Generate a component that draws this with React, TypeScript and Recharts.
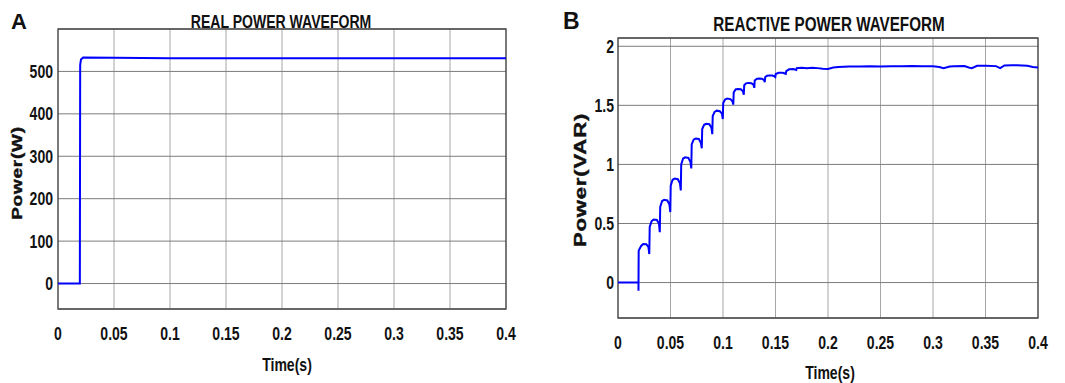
import React from "react";
import { LineChart, Line, XAxis, YAxis, CartesianGrid, ReferenceArea } from "recharts";

// ---- Panel A: real power ----
const realTime = [0, 0.0195, 0.0195, 0.0198, 0.0205, 0.0225, 0.05, 0.1, 0.2, 0.3, 0.4];
const realPower = [0, 0, 0, 515, 528, 533, 532, 531, 531, 531, 531];
const realTicksX = [0, 0.05, 0.1, 0.15, 0.2, 0.25, 0.3, 0.35, 0.4];
const realTicksY = [0, 100, 200, 300, 400, 500];

// ---- Panel B: reactive power ----
const reactiveTime = [
  0, 0.0195, 0.0195, 0.0197,
  0.022, 0.024, 0.027, 0.029, 0.0298,
  0.0302, 0.032, 0.034, 0.037, 0.039, 0.0398,
  0.0402, 0.042, 0.044, 0.047, 0.049, 0.0498,
  0.0502, 0.052, 0.054, 0.057, 0.059, 0.0598,
  0.0602, 0.062, 0.064, 0.067, 0.069, 0.0698,
  0.0702, 0.072, 0.074, 0.077, 0.079, 0.0798,
  0.0802, 0.082, 0.084, 0.087, 0.089, 0.0898,
  0.0902, 0.092, 0.094, 0.097, 0.099, 0.0998,
  0.1002, 0.102, 0.104, 0.107, 0.109, 0.1098,
  0.1102, 0.112, 0.114, 0.117, 0.119, 0.1198,
  0.1202, 0.122, 0.124, 0.127, 0.129, 0.1298,
  0.1302, 0.132, 0.134, 0.137, 0.139, 0.1398,
  0.1402, 0.142, 0.144, 0.147, 0.149, 0.1498,
  0.1502, 0.153, 0.157, 0.1598,
  0.1602, 0.163, 0.167, 0.1698,
  0.1702, 0.175, 0.18, 0.185, 0.19, 0.195, 0.2, 0.205, 0.21, 0.22, 0.23, 0.24,
  0.25, 0.26, 0.27, 0.28, 0.29, 0.3, 0.306, 0.31, 0.316, 0.32, 0.33, 0.334, 0.337,
  0.342, 0.35, 0.36, 0.364, 0.368, 0.375, 0.38, 0.39, 0.395, 0.4,
];
const reactivePower = [
  0, 0, -0.07, 0.27,
  0.31, 0.327, 0.325, 0.3, 0.241,
  0.47, 0.52, 0.534, 0.53, 0.5, 0.426,
  0.64, 0.69, 0.7, 0.695, 0.66, 0.597,
  0.82, 0.87, 0.88, 0.875, 0.84, 0.78,
  1.0, 1.05, 1.06, 1.055, 1.02, 0.966,
  1.17, 1.21, 1.219, 1.215, 1.18, 1.136,
  1.3, 1.335, 1.344, 1.34, 1.31, 1.256,
  1.41, 1.445, 1.455, 1.45, 1.43, 1.384,
  1.52, 1.55, 1.557, 1.553, 1.535, 1.506,
  1.61, 1.635, 1.639, 1.636, 1.62, 1.59,
  1.67, 1.686, 1.69, 1.688, 1.675, 1.648,
  1.71, 1.724, 1.727, 1.725, 1.715, 1.696,
  1.74, 1.75, 1.753, 1.752, 1.745, 1.739,
  1.765, 1.775, 1.776, 1.767,
  1.79, 1.805, 1.808, 1.8,
  1.815, 1.818, 1.815, 1.818, 1.815, 1.81, 1.808, 1.82, 1.825, 1.828, 1.828, 1.83,
  1.828, 1.83, 1.83, 1.832, 1.83, 1.83, 1.825, 1.815, 1.828, 1.83, 1.832, 1.82, 1.815,
  1.835, 1.836, 1.832, 1.815, 1.838, 1.84, 1.84, 1.835, 1.825, 1.82,
];
const reactiveTicksX = [0, 0.05, 0.1, 0.15, 0.2, 0.25, 0.3, 0.35, 0.4];
const reactiveTicksY = [0, 0.5, 1, 1.5, 2];

const realData = realTime.map((t, i) => ({ t, p: realPower[i] }));
const reactiveData = reactiveTime.map((t, i) => ({ t, q: reactivePower[i] }));

const SANS = "'Liberation Sans', Arial, sans-serif";
const SQUEEZE = 0.78;

function XTick(props: any) {
  const { x, y, payload } = props;
  return (
    <g transform={`translate(${x},${y}) scale(${SQUEEZE},1)`}>
      <text x={0} y={0} dy="0.71em" textAnchor="middle" fontFamily={SANS} fontWeight={700} fontSize={18} fill="#111">
        {String(payload.value)}
      </text>
    </g>
  );
}

function YTick(props: any) {
  const { x, y, payload } = props;
  return (
    <g transform={`translate(${x},${y}) scale(${SQUEEZE},1)`}>
      <text x={0} y={0} dy="0.355em" textAnchor="end" fontFamily={SANS} fontWeight={700} fontSize={18} fill="#111">
        {String(payload.value)}
      </text>
    </g>
  );
}

const abs = (s: React.CSSProperties): React.CSSProperties => ({ position: "absolute", ...s });
const narrowText = (s: React.CSSProperties): React.CSSProperties => ({
  position: "absolute",
  textAlign: "center",
  fontFamily: SANS,
  fontWeight: 700,
  color: "#111",
  whiteSpace: "nowrap",
  transform: `scaleX(${SQUEEZE})`,
  transformOrigin: "50% 50%",
  ...s,
});
const wideVertical = (fontSize: number, stretch: number): React.CSSProperties => ({
  position: "absolute",
  left: -100,
  top: -9,
  width: 200,
  textAlign: "center",
  transform: `rotate(-90deg) scaleX(${stretch})`,
  fontFamily: SANS,
  fontWeight: 700,
  fontSize,
  lineHeight: "18px",
  letterSpacing: 0.6,
  color: "#111",
  whiteSpace: "nowrap",
  WebkitTextStroke: "0.4px #111",
});

export default function App() {
  return (
    <div style={{ position: "absolute", left: 0, top: 0, width: 1065, height: 383, background: "#fff", overflow: "hidden" }}>
      {/* Panel A */}
      <div style={abs({ left: 0, top: 0 })}>
        <LineChart width={530} height={383} data={realData} margin={{ top: 29, right: 24, bottom: 24, left: 18 }}>
          <CartesianGrid stroke="#a6a6a6" strokeWidth={1} horizontal={false} />
          <CartesianGrid stroke="#7c7c7c" strokeWidth={1} vertical={false} />
          <XAxis
            dataKey="t"
            type="number"
            domain={[0, 0.4]}
            ticks={realTicksX}
            height={50}
            tickSize={0}
            tickMargin={18}
            axisLine={false}
            tick={<XTick />}
            allowDataOverflow
          />
          <YAxis
            type="number"
            domain={[-60, 600]}
            ticks={realTicksY}
            width={40}
            tickSize={0}
            tickMargin={5}
            axisLine={false}
            tick={<YTick />}
            allowDataOverflow
          />
          <ReferenceArea x1={0} x2={0.4} y1={-60} y2={600} fill="none" stroke="#4a4a4a" strokeWidth={1.3} ifOverflow="visible" />
          <Line dataKey="p" stroke="#0000ff" strokeWidth={2} dot={false} isAnimationActive={false} type="linear" />
        </LineChart>
      </div>

      {/* Panel B */}
      <div style={abs({ left: 530, top: 0 })}>
        <LineChart width={535} height={383} data={reactiveData} margin={{ top: 38, right: 27, bottom: 20, left: 48 }}>
          <CartesianGrid stroke="#a6a6a6" strokeWidth={1} horizontal={false} />
          <CartesianGrid stroke="#7c7c7c" strokeWidth={1} vertical={false} />
          <XAxis
            dataKey="t"
            type="number"
            domain={[0, 0.4]}
            ticks={reactiveTicksX}
            height={45}
            tickSize={0}
            tickMargin={18}
            axisLine={false}
            tick={<XTick />}
            allowDataOverflow
          />
          <YAxis
            type="number"
            domain={[-0.3, 2.07]}
            ticks={reactiveTicksY}
            width={40}
            tickSize={0}
            tickMargin={4}
            axisLine={false}
            tick={<YTick />}
            allowDataOverflow
          />
          <ReferenceArea x1={0} x2={0.4} y1={-0.3} y2={2.07} fill="none" stroke="#4a4a4a" strokeWidth={1.3} ifOverflow="visible" />
          <Line dataKey="q" stroke="#0000ff" strokeWidth={2} dot={false} isAnimationActive={false} type="linear" />
        </LineChart>
      </div>

      {/* Panel letters */}
      <div style={abs({ left: 11, top: 10, fontFamily: SANS, fontWeight: 700, fontSize: 22, lineHeight: "23px", color: "#111" })}>A</div>
      <div style={abs({ left: 563, top: 9, fontFamily: SANS, fontWeight: 700, fontSize: 23, lineHeight: "24px", color: "#111" })}>B</div>

      {/* Titles */}
      <div style={narrowText({ left: 81, width: 400, top: 13, fontSize: 18, lineHeight: "18px" })}>REAL POWER WAVEFORM</div>
      <div style={narrowText({ left: 629, width: 400, top: 14, fontSize: 19.5, lineHeight: "20px" })}>REACTIVE POWER WAVEFORM</div>

      {/* X axis titles */}
      <div style={narrowText({ left: 187, width: 200, top: 356, fontSize: 18, lineHeight: "18px" })}>Time(s)</div>
      <div style={narrowText({ left: 730, width: 200, top: 364, fontSize: 18, lineHeight: "18px" })}>Time(s)</div>

      {/* Y axis titles */}
      <div style={abs({ left: 17, top: 173, width: 0, height: 0 })}>
        <div style={wideVertical(14, 1.35)}>Power(W)</div>
      </div>
      <div style={abs({ left: 581, top: 180, width: 0, height: 0 })}>
        <div style={wideVertical(16, 1.38)}>Power(VAR)</div>
      </div>
    </div>
  );
}
